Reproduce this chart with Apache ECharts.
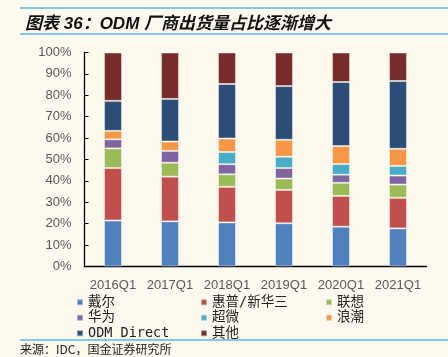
<!DOCTYPE html>
<html>
<head>
<meta charset="utf-8">
<script src="https://cdn.jsdelivr.net/npm/echarts@6/dist/echarts.min.js"></script>
<style>
html,body{margin:0;padding:0;background:#FEF9EF;}
#c{width:448px;height:357px;}
</style>
</head>
<body>
<div id="c"></div>
<script>
const categories = ['2016Q1','2017Q1','2018Q1','2019Q1','2020Q1','2021Q1'];
const dell     = [21.5, 21.1, 20.6, 20.2, 18.6, 17.8];
const hpe      = [24.5, 20.9, 16.6, 15.6, 14.4, 14.3];
const lenovo   = [9.2, 6.5, 5.9, 5.3, 6.1, 6.2];
const huawei   = [4.2, 5.5, 4.7, 4.9, 3.8, 4.2];
const supermicro = [null, null, 5.7, 5.3, 5.0, 4.5];
const inspur   = [4.0, 4.4, 6.3, 7.9, 8.4, 8.0];
const odm      = [14.0, 19.9, 25.5, 25.1, 29.9, 31.7];
const others   = [22.6, 21.7, 14.7, 15.7, 13.8, 13.3];
const yTicks = [0,10,20,30,40,50,60,70,80,90,100];

const seriesDefs = [
  ['戴尔', dell, '#4F81BD'],
  ['惠普/新华三', hpe, '#C0504D'],
  ['联想', lenovo, '#9BBB59'],
  ['华为', huawei, '#8064A2'],
  ['超微', supermicro, '#4BACC6'],
  ['浪潮', inspur, '#F79646'],
  ['ODM Direct', odm, '#2C4D75'],
  ['其他', others, '#772C2A']
];

const legendText = {fontFamily:'"DejaVu Sans Mono","Noto Sans CJK SC",monospace', fontSize:13.5, color:'#222', lineHeight:13};
function mkLegend(left, names){
  return {orient:'vertical', left:left, top:295.5, itemWidth:6, itemHeight:6, itemGap:2,
    padding:0, icon:'rect', textStyle:legendText, data:names, selectedMode:false};
}

const chart = echarts.init(document.getElementById('c'), null, {renderer:'canvas'});
chart.setOption({
  backgroundColor:'#FEF9EF',
  animation:false,
  title:{text:'图表 36：ODM 厂商出货量占比逐渐增大', left:20, top:11,
    textStyle:{fontFamily:'"Liberation Sans","Noto Sans CJK SC",sans-serif', fontWeight:'bold', fontStyle:'italic', fontSize:17, color:'#111'}},
  graphic:[
    {type:'line', shape:{x1:20,y1:8,x2:448,y2:8}, style:{stroke:'#5DB5E6', lineWidth:1.5}},
    {type:'line', shape:{x1:20,y1:34,x2:448,y2:34}, style:{stroke:'#5DB5E6', lineWidth:1.5}},
    {type:'line', shape:{x1:20,y1:340,x2:448,y2:340}, style:{stroke:'#5DB5E6', lineWidth:1.5}},
    {type:'text', left:20, top:343, style:{text:'来源：IDC，国金证券研究所', font:'12px "Noto Sans CJK SC"', fill:'#222'}}
  ],
  legend:[
    mkLegend(76, ['戴尔','华为','ODM Direct']),
    mkLegend(200, ['惠普/新华三','超微','其他']),
    mkLegend(325, ['联想','浪潮'])
  ],
  grid:{left:84.5, right:21.5, top:52.5, bottom:90.5},
  xAxis:{type:'category', data:categories,
    axisLine:{lineStyle:{color:'#000', width:1.3}},
    axisTick:{show:false},
    axisLabel:{interval:0, color:'#595959', fontSize:13, fontFamily:'"Liberation Sans",Arial,sans-serif', margin:12}},
  yAxis:{type:'value', min:yTicks[0], max:yTicks[yTicks.length-1], interval:10,
    axisLine:{show:true, lineStyle:{color:'#000', width:1.3}},
    axisTick:{show:true, inside:true, length:4, lineStyle:{color:'#000'}},
    splitLine:{show:false},
    axisLabel:{color:'#595959', fontSize:13, fontFamily:'"Liberation Sans",Arial,sans-serif', margin:13, formatter:'{value}%'}},
  series: seriesDefs.map(([name, data, color]) => ({
    name, type:'bar', stack:'total', data, barWidth:18,
    itemStyle:{color, borderColor:'rgba(255,255,255,0.45)', borderWidth:1}
  }))
});
</script>
</body>
</html>
